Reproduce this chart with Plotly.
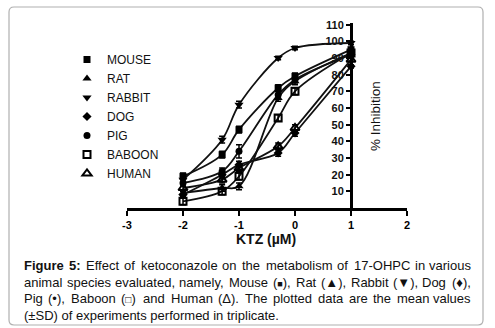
import plotly.graph_objects as go

# ---- data ----
x_log = [-2, -1.301, -1, -0.301, 0, 1]   # log10 KTZ (uM): 0.01, 0.05, 0.1, 0.5, 1, 10
mouse = [19, 32, 47, 72, 79, 95]
rat = [9, 12, 13, 66, 76, 93]
rabbit = [17, 41, 62, 90, 96, 99]
dog = [8, 20, 26, 33, 45, 85]
pig = [15, 22, 34, 68, 77, 92]
baboon = [4, 10, 19, 54, 70, 93]
human = [12, 17, 24, 37, 48, 89]

mouse_sd = [2, 2, 2, 2, 2, 1]
rat_sd = [2, 2, 2, 2, 2, 1]
rabbit_sd = [2, 2, 2, 1, 1, 1]
dog_sd = [2, 2, 2, 2, 2, 1]
pig_sd = [2, 2, 4, 2, 2, 1]
baboon_sd = [2, 2, 2, 2, 2, 1]
human_sd = [2, 2, 2, 2, 2, 1]

species = ["MOUSE", "RAT", "RABBIT", "DOG", "PIG", "BABOON", "HUMAN"]
values = [mouse, rat, rabbit, dog, pig, baboon, human]
sds = [mouse_sd, rat_sd, rabbit_sd, dog_sd, pig_sd, baboon_sd, human_sd]
symbols = ["square", "triangle-up", "triangle-down", "diamond", "circle", "square-open", "triangle-up-open"]
sizes = [7, 8, 8, 7, 7, 7, 8]

x_ticks = [-3, -2, -1, 0, 1, 2]
y_ticks = [10, 20, 30, 40, 50, 60, 70, 80, 90, 100, 110]

FONT = "Arial, Liberation Sans, sans-serif"

# ---- geometry helpers (pixel -> paper) ----
W, H = 495, 328
ML, MR, MT, MB = 127, 88, 23, 120
PW, PH = W - ML - MR, H - MT - MB


def px(x):
    return (x - ML) / PW


def py(y):
    return (H - MB - y) / PH


fig = go.Figure()

for name, v in zip(species, values):
    fig.add_trace(go.Scatter(
        x=x_log, y=v, mode="lines", showlegend=False, hoverinfo="skip",
        line=dict(color="#111111", width=1.8, shape="spline", smoothing=1.0),
    ))

for name, v, sd, sym, sz in zip(species, values, sds, symbols, sizes):
    fig.add_trace(go.Scatter(
        x=x_log, y=v, mode="markers", name=name,
        marker=dict(symbol=sym, size=sz, color="#000000",
                    line=dict(color="#000000", width=2 if "open" in sym else 0)),
        error_y=dict(type="data", array=sd, visible=True, color="#000000",
                     thickness=1.5, width=3),
    ))

fig.update_layout(
    width=W, height=H,
    margin=dict(l=ML, r=MR, t=MT, b=MB),
    paper_bgcolor="white", plot_bgcolor="white",
    font=dict(family=FONT, color="#000000"),
    showlegend=True,
    legend=dict(
        x=px(67), y=py(45), xanchor="left", yanchor="top",
        font=dict(size=12, family=FONT, color="#111111"),
        bgcolor="rgba(0,0,0,0)", borderwidth=0, tracegroupgap=0,
        itemsizing="trace", itemwidth=30,
    ),
    xaxis=dict(
        range=[-3, 2], tickvals=x_ticks, ticktext=[str(t) for t in x_ticks],
        showgrid=False, zeroline=False, showline=True, linecolor="#000000",
        linewidth=3, ticks="outside", ticklen=5, tickwidth=2, tickcolor="#000000",
        tickfont=dict(size=11, family=FONT, color="#000000", weight="bold"),
        anchor="y", domain=[0, 1],
    ),
    yaxis=dict(
        range=[0, 111], tickvals=y_ticks, ticktext=[str(t) for t in y_ticks],
        showgrid=False, zeroline=False, showline=True, linecolor="#000000",
        linewidth=3, ticks="outside", ticklen=4, tickwidth=2, tickcolor="#000000",
        tickfont=dict(size=11, family=FONT, color="#111111", weight="bold"),
        anchor="free", position=0.8, domain=[0, 1],
    ),
)

annotations = [
    dict(x=px(266), y=py(239), xref="paper", yref="paper", text="<b>KTZ (\u00b5M)</b>",
         showarrow=False, font=dict(size=14, family=FONT, color="#111111"),
         xanchor="center", yanchor="middle"),
    dict(x=px(375), y=py(116), xref="paper", yref="paper", text="% Inhibition",
         textangle=-90, showarrow=False, font=dict(size=13.5, family=FONT, color="#111111"),
         xanchor="center", yanchor="middle"),
]

# ---- caption (justified word by word using Arial metrics) ----
CAP_SIZE = 13
AW = {" ": 278, "a": 556, "b": 556, "c": 500, "d": 556, "e": 556, "f": 278, "g": 556,
      "h": 556, "i": 222, "j": 222, "k": 500, "l": 222, "m": 833, "n": 556, "o": 556,
      "p": 556, "q": 556, "r": 333, "s": 500, "t": 278, "u": 556, "v": 500, "w": 722,
      "x": 500, "y": 500, "z": 500, "A": 667, "B": 667, "C": 722, "D": 722, "E": 667,
      "F": 611, "G": 778, "H": 722, "I": 278, "M": 833, "O": 778, "P": 667, "R": 722,
      "S": 667, "T": 611, "(": 333, ")": 333, ",": 278, ".": 278, ":": 278, "-": 333,
      "\u00b1": 584, "\u0394": 668, "0": 556, "1": 556, "2": 556, "3": 556, "4": 556,
      "5": 556, "6": 556, "7": 556, "8": 556, "9": 556,
      "\u25b2": 1000, "\u25bc": 1000, "\u2666": 760, "\u2022": 350}


def width(word, extra=0.0):
    return sum(AW.get(ch, 556) for ch in word) / 1000 * CAP_SIZE + extra


SQ = "<span style='font-size:9px'>\u25a0</span>"
OSQ = "<span style='font-size:10px'>\u25a1</span>"

# each word: (html text, width estimate in px)
cap_words = [
    [("<b>Figure</b>", 3056 / 1000 * CAP_SIZE), ("<b>5:</b>", 889 / 1000 * CAP_SIZE)]
    + [(w, width(w)) for w in "Effect of ketoconazole on the metabolism of 17-OHPC in various".split()],
    [(w, width(w)) for w in "animal species evaluated, namely, Mouse".split()]
    + [(f"({SQ}),", width("(),", 7)), ("Rat", width("Rat")), ("(\u25b2),", width("(\u25b2),")),
       ("Rabbit", width("Rabbit")), ("(\u25bc),", width("(\u25bc),")), ("Dog", width("Dog")),
       ("(\u2666),", width("(\u2666),"))],
    [("Pig", width("Pig")), ("(\u2022),", width("(\u2022),")), ("Baboon", width("Baboon")),
     (f"({OSQ})", width("()", 7.7))]
    + [(w, width(w)) for w in "and Human (\u0394). The plotted data are the mean values".split()],
]
LEFT, RIGHT = 23, 471.5
cap_y = [265, 282, 298, 315]
for words, yy in zip(cap_words, cap_y[:3]):
    total = sum(w for _, w in words)
    gap = (RIGHT - LEFT - total) / (len(words) - 1)
    xpos = LEFT
    for i, (txt, w) in enumerate(words):
        last = i == len(words) - 1
        annotations.append(dict(
            x=px(RIGHT if last else xpos), y=py(yy), xref="paper", yref="paper",
            text=txt, showarrow=False, borderpad=0,
            font=dict(size=CAP_SIZE, family=FONT, color="#111111"),
            xanchor="right" if last else "left", yanchor="middle",
        ))
        xpos += w + gap
annotations.append(dict(
    x=px(LEFT), y=py(cap_y[3]), xref="paper", yref="paper",
    text="(\u00b1SD) of experiments performed in triplicate.", showarrow=False, borderpad=0,
    font=dict(size=CAP_SIZE, family=FONT, color="#111111"),
    xanchor="left", yanchor="middle",
))
fig.update_layout(annotations=annotations)

# rounded border around the whole figure
x0, x1, y0, y1, r = 9, 483, 7, 325, 5
path = (
    f"M {px(x0 + r)},{py(y0)} L {px(x1 - r)},{py(y0)} "
    f"Q {px(x1)},{py(y0)} {px(x1)},{py(y0 + r)} "
    f"L {px(x1)},{py(y1 - r)} Q {px(x1)},{py(y1)} {px(x1 - r)},{py(y1)} "
    f"L {px(x0 + r)},{py(y1)} Q {px(x0)},{py(y1)} {px(x0)},{py(y1 - r)} "
    f"L {px(x0)},{py(y0 + r)} Q {px(x0)},{py(y0)} {px(x0 + r)},{py(y0)} Z"
)
fig.add_shape(type="path", path=path, xref="paper", yref="paper",
              line=dict(color="#b0b0b0", width=1.2), fillcolor="rgba(0,0,0,0)",
              layer="below")

fig.write_html("out.html", config={"displayModeBar": False},
               post_script="document.body.style.margin='0';document.body.style.overflow='hidden';")
